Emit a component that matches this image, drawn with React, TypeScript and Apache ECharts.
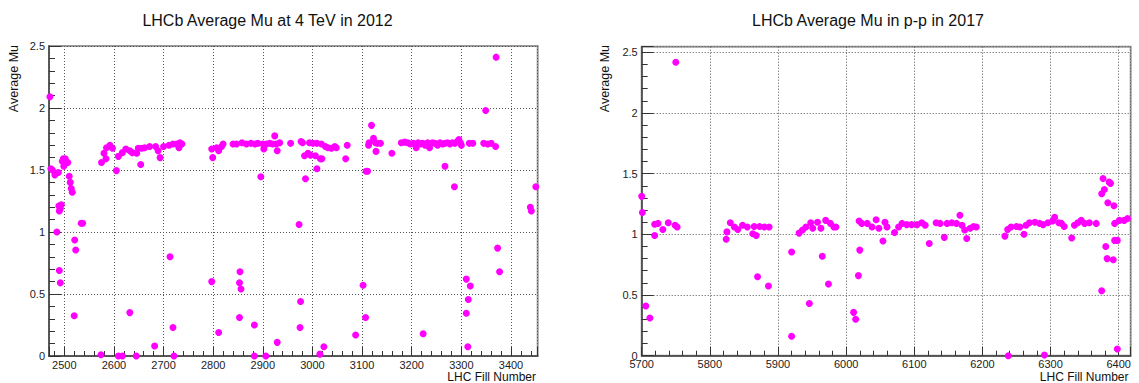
import React, { useEffect, useRef } from "react";
import * as echarts from "echarts";

// LHC fill number vs average mu, 2012 (4 TeV)
const points2012: [number, number][] = [
  [2471, 2.09], [2473, 1.51], [2476, 1.5], [2481, 1.46], [2485, 1.0], [2488, 1.48], [2489, 1.21], [2490, 1.17], [2490, 0.69],
  [2492, 0.59], [2492, 1.19], [2494, 1.22], [2496, 1.57], [2498, 1.59], [2499, 1.53], [2502, 1.59], [2504, 1.56], [2507, 1.56],
  [2510, 1.45], [2512, 1.4], [2514, 1.35], [2516, 1.32], [2520, 0.325], [2521, 0.935], [2523, 0.855], [2534, 1.07], [2537, 1.07],
  [2574, 0.01], [2575, 1.56], [2580, 1.635], [2584, 1.59], [2585, 1.68], [2592, 1.7], [2597, 1.675], [2605, 1.495], [2609, 1.61],
  [2609, 0], [2617, 1.64], [2617, 0], [2624, 1.67], [2632, 1.655], [2632, 0.35], [2637, 1.64], [2645, 0], [2646, 1.635],
  [2649, 1.675], [2654, 1.545], [2656, 1.675], [2662, 1.68], [2672, 1.69], [2682, 0.08], [2684, 1.69], [2689, 1.655], [2693, 1.6],
  [2700, 1.69], [2711, 1.7], [2713, 0.8], [2719, 0.23], [2719, 1.71], [2721, 0], [2726, 1.71], [2731, 1.68], [2733, 1.72], [2737, 1.71],
  [2797, 1.67], [2797, 0.6], [2799, 1.6], [2807, 1.68], [2811, 1.655], [2811, 0.19], [2817, 1.69], [2820, 1.71], [2840, 1.71],
  [2847, 1.71], [2853, 0.59], [2853, 0.31], [2854, 0.68], [2856, 0.54], [2858, 1.72], [2867, 1.71], [2876, 1.715], [2883, 0.25],
  [2883, 0], [2884, 1.71], [2890, 1.715], [2896, 1.445], [2900, 1.71], [2902, 1.67], [2906, 0], [2907, 1.71], [2914, 1.715],
  [2920, 1.71], [2924, 1.775], [2927, 1.71], [2929, 1.655], [2929, 0.11], [2934, 1.72], [2956, 1.715],
  [2973, 1.06], [2975, 0.23], [2976, 0.44], [2977, 1.73], [2980, 1.72], [2984, 1.615], [2986, 1.43], [2991, 1.635], [2994, 1.72],
  [2996, 1.62], [3001, 1.715], [3006, 1.615], [3009, 1.51], [3009, 1.715], [3015, 0.015], [3016, 1.59], [3018, 1.71], [3019, 1.59],
  [3023, 0.075], [3026, 1.69], [3031, 1.68], [3038, 1.675], [3045, 1.69], [3048, 1.68], [3067, 1.59], [3070, 1.7], [3087, 0.17],
  [3102, 0.57], [3107, 0.31], [3108, 1.49], [3111, 1.49], [3113, 1.7], [3114, 1.72], [3119, 1.86], [3123, 1.755], [3127, 1.72],
  [3128, 1.65], [3131, 1.715], [3137, 1.715], [3160, 1.635], [3179, 1.72],
  [3186, 1.725], [3192, 1.72], [3197, 1.71], [3203, 1.715], [3208, 1.7], [3209, 1.68], [3213, 1.72], [3218, 1.71], [3222, 1.715],
  [3223, 0.18], [3227, 1.7], [3232, 1.72], [3236, 1.68], [3237, 1.71], [3242, 1.72], [3247, 1.715], [3252, 1.7], [3257, 1.72],
  [3262, 1.71], [3267, 1.53], [3267, 1.715], [3272, 1.72], [3277, 1.71], [3282, 1.72], [3286, 1.365], [3287, 1.715], [3292, 1.73],
  [3295, 1.745], [3298, 1.72], [3300, 1.7],
  [3310, 0.62], [3310, 0.345], [3313, 0.075], [3314, 0.455], [3316, 1.715], [3318, 0.565], [3323, 1.715], [3345, 1.715], [3349, 1.98],
  [3353, 1.71], [3360, 1.715], [3369, 1.69], [3370, 2.41], [3373, 0.87], [3377, 0.68], [3439, 1.2], [3441, 1.17], [3450, 1.365],
];

// LHC fill number vs average mu, 2017 (p-p)
const points2017: [number, number][] = [
  [5700, 1.313], [5701, 1.18], [5706, 0.41], [5712, 0.31], [5719, 0.99], [5719, 1.083], [5724, 1.09], [5731, 1.04], [5739, 1.095],
  [5749, 1.075], [5750, 2.418], [5752, 1.06],
  [5824, 0.96], [5825, 1.02], [5830, 1.095], [5836, 1.06], [5841, 1.04], [5848, 1.075], [5855, 1.06], [5863, 1.005], [5865, 1.065],
  [5868, 0.99], [5870, 0.65], [5873, 1.065], [5880, 1.06], [5886, 0.575], [5887, 1.06],
  [5920, 0.16], [5920, 0.855], [5931, 1.01], [5936, 1.035], [5941, 1.06], [5946, 0.43], [5948, 1.095], [5951, 1.05], [5958, 1.1],
  [5963, 1.05], [5965, 0.82], [5970, 1.115], [5974, 0.59], [5977, 1.09], [5982, 1.06], [5985, 1.06],
  [6011, 0.357], [6014, 0.3], [6018, 0.66], [6019, 1.11], [6020, 0.87], [6023, 1.09], [6031, 1.09], [6038, 1.06], [6044, 1.12],
  [6048, 1.05], [6054, 0.945], [6057, 1.1], [6060, 1.06], [6071, 1.015], [6077, 1.06], [6082, 1.09], [6089, 1.08], [6096, 1.08],
  [6104, 1.08], [6111, 1.095], [6116, 1.075], [6122, 0.925], [6132, 1.095], [6138, 1.09], [6144, 0.975], [6148, 1.09], [6155, 1.095],
  [6162, 1.09], [6167, 1.157], [6170, 1.075], [6174, 1.035], [6177, 0.965], [6182, 1.05], [6187, 1.065], [6191, 1.06],
  [6233, 0.985], [6237, 1.04], [6238, 0], [6242, 1.06], [6250, 1.065], [6255, 1.06], [6261, 1.0], [6264, 1.075], [6269, 1.095],
  [6277, 1.1], [6284, 1.09], [6289, 1.08], [6291, 0.005], [6296, 1.095], [6303, 1.11], [6306, 1.14], [6312, 1.095], [6316, 1.09],
  [6320, 1.065], [6331, 0.97], [6335, 1.075], [6340, 1.095], [6345, 1.115], [6350, 1.09], [6357, 1.095], [6367, 1.09],
  [6375, 0.535], [6375, 1.335], [6377, 1.46], [6379, 1.37], [6381, 0.9], [6383, 0.8], [6384, 1.26], [6386, 1.43], [6388, 1.42],
  [6392, 0.79], [6393, 1.235], [6394, 0.95], [6394, 1.09], [6398, 0.95], [6398, 0.055], [6401, 1.115], [6408, 1.115], [6413, 1.13],
];

const titles = ["LHCb Average Mu at 4 TeV in 2012", "LHCb Average Mu in p-p in 2017"];
const yTitle = "Average Mu";
const xTitle = "LHC Fill Number";

const FONT = "'Liberation Sans', Arial, Helvetica, sans-serif";

function xAxisCfg(gridIndex: number, min: number, max: number, showMin: boolean) {
  return {
    type: "value",
    gridIndex,
    min,
    max,
    splitNumber: 10,
    minInterval: 100,
    maxInterval: 100,
    axisLine: { show: true, onZero: false, lineStyle: { color: "#444", width: 1.5 } },
    axisTick: { show: true, inside: true, length: 9, lineStyle: { color: "#333", width: 1 } },
    minorTick: { show: true, splitNumber: 5, length: 5, lineStyle: { color: "#333", width: 1 } },
    splitLine: { show: true, lineStyle: { color: "#555", width: 1, type: [1, 2] } },
    minorSplitLine: { show: false },
    axisLabel: {
      margin: 3,
      fontSize: 11,
      color: "#222",
      fontFamily: FONT,
      showMinLabel: showMin,
      showMaxLabel: false,
      formatter: (v: number) => String(Math.round(v)),
    },
  };
}

function yAxisCfg(gridIndex: number, max: number, showMax: boolean) {
  return {
    type: "value",
    gridIndex,
    min: 0,
    max,
    interval: 0.5,
    axisLine: { show: true, onZero: false, lineStyle: { color: "#444", width: 1.5 } },
    axisTick: { show: true, inside: true, length: 12, lineStyle: { color: "#333", width: 1 } },
    minorTick: { show: true, splitNumber: 5, length: 6, lineStyle: { color: "#333", width: 1 } },
    splitLine: { show: true, lineStyle: { color: "#555", width: 1, type: [1, 2] } },
    minorSplitLine: { show: false },
    axisLabel: {
      margin: 4,
      fontSize: 11,
      color: "#222",
      fontFamily: FONT,
      showMaxLabel: showMax,
      formatter: (v: number) => String(Math.round(v * 10) / 10),
    },
  };
}

function textEl(text: string, x: number, y: number, size: number, align: string, rotation = 0) {
  return {
    type: "text",
    x,
    y,
    rotation,
    style: {
      text,
      fontSize: size,
      fontFamily: FONT,
      fill: "#111",
      textAlign: align,
      textVerticalAlign: "middle",
    },
  };
}

export default function App() {
  const ref = useRef<HTMLDivElement>(null);
  useEffect(() => {
    if (!ref.current) return;
    const chart = echarts.init(ref.current, null, { renderer: "svg" });
    chart.setOption({
      animation: false,
      backgroundColor: "#ffffff",
      grid: [
        { left: 49, top: 46, width: 488.7, height: 310, show: true, borderColor: "#999", borderWidth: 2, outerBoundsMode: "none", containLabel: false },
        { left: 641.7, top: 46.7, width: 489, height: 309, show: true, borderColor: "#999", borderWidth: 2, outerBoundsMode: "none", containLabel: false },
      ],
      xAxis: [xAxisCfg(0, 2469.2, 3453.8, false), xAxisCfg(1, 5700, 6417.6, true)],
      yAxis: [yAxisCfg(0, 2.5, true), yAxisCfg(1, 2.546, false)],
      series: [
        {
          type: "scatter",
          xAxisIndex: 0,
          yAxisIndex: 0,
          data: points2012,
          symbol: "circle",
          symbolSize: 7,
          itemStyle: { color: "#ff00ff", opacity: 1 },
          clip: false,
        },
        {
          type: "scatter",
          xAxisIndex: 1,
          yAxisIndex: 1,
          data: points2017,
          symbol: "circle",
          symbolSize: 7,
          itemStyle: { color: "#ff00ff", opacity: 1 },
          clip: false,
        },
      ],
      graphic: [
        textEl(titles[0], 267.5, 20, 16, "center"),
        textEl(titles[1], 868, 20, 16, "center"),
        textEl(yTitle, 13.5, 45, 12.5, "right", Math.PI / 2),
        textEl(yTitle, 605, 45, 12.5, "right", Math.PI / 2),
        textEl(xTitle, 536, 376.5, 12, "right"),
        textEl(xTitle, 1128.5, 376.5, 12, "right"),
      ],
    });
    return () => chart.dispose();
  }, []);
  return (
    <div
      ref={ref}
      style={{ position: "absolute", left: 0, top: 0, width: 1139, height: 383, background: "#fff" }}
    />
  );
}
